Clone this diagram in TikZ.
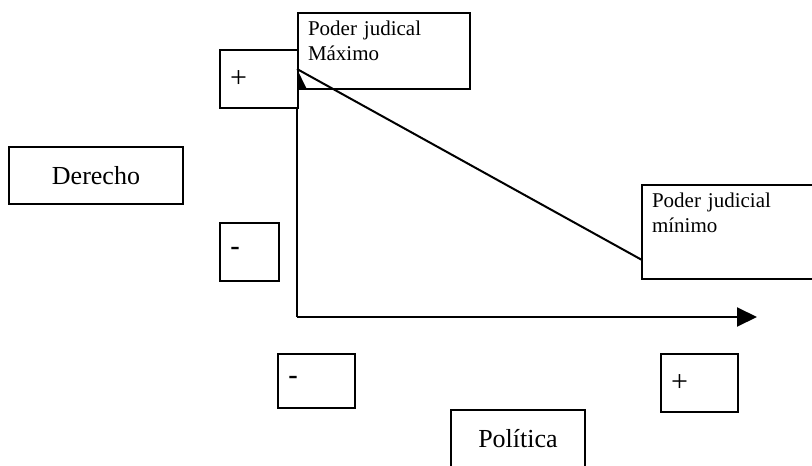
\documentclass[tikz,border=0pt]{standalone}
\usepackage{fontspec}
\setmainfont{Liberation Serif}
\newfontfamily\signfont{Liberation Sans}
\usetikzlibrary{arrows.meta}
\tikzset{
    labelbox/.style = {rectangle,
                    fill=white,
                    draw=black,
                    text=black,
                    line width=2pt,
                    font=\fontsize{26}{30}\selectfont,
                    anchor=north west,
                    inner sep=0pt},
    signbox/.style = {rectangle,
                    fill=white,
                    draw=black,
                    text=black,
                    line width=2pt,
                    font=\fontsize{30}{34}\selectfont,
                    align=left,
                    anchor=north west,
                    inner xsep=10pt,
                    inner ysep=0pt},
    notebox/.style = {rectangle,
                    draw=black,
                    text=black,
                    line width=2pt,
                    font=\fontsize{21}{25}\selectfont,
                    align=left,
                    anchor=north west,
                    inner xsep=10pt,
                    inner ysep=8pt},
    -,
    axis/.style = {line width=2pt,
                    -{Triangle[length=20pt,width=19pt]}},
    trend/.style = {line width=2pt}}

\begin{document}
\begin{tikzpicture}[x=1pt,y=-1pt]
                \useasboundingbox (0,0) rectangle (812,466);
                % axes
                \coordinate (O)     at (297,317);
                \coordinate (ytop)  at (297,69);
                \coordinate (xend)  at (757,317);
                \coordinate (dend)  at (642,260);
                \draw [axis] (O) -- (ytop);
                \draw [axis] (O) -- (xend);
                % signs
                \node[signbox, minimum width=78pt, minimum height=58pt, text width=58pt]   (yplus)  at (219,49)  {+};
                \node[signbox, minimum width=59pt, minimum height=58pt, text width=39pt]   (yminus) at (219,222) {\signfont -};
                \node[signbox, minimum width=77pt, minimum height=54pt, text width=57pt]   (xminus) at (277,353) {\signfont -};
                \node[signbox, minimum width=77pt, minimum height=58pt, text width=57pt]   (xplus)  at (660,353) {+};
                % names of the axes
                \node[labelbox, minimum width=174pt, minimum height=57pt] (derecho)  at (8,146)   {Derecho};
                \node[labelbox, minimum width=134pt, minimum height=58pt] (politica) at (450,409) {Política};
                % notes
                \node[notebox, minimum width=172pt, text width=152pt] (maxbox) at (297,12)  {Poder judical\\Máximo\rule[-20pt]{0pt}{0pt}};
                \node[notebox, minimum width=190pt, text width=170pt] (minbox) at (641,184) {Poder judicial\\mínimo\rule[-38pt]{0pt}{0pt}};
                \draw [trend] (ytop) -- (dend);
        \end{tikzpicture}
\end{document}
